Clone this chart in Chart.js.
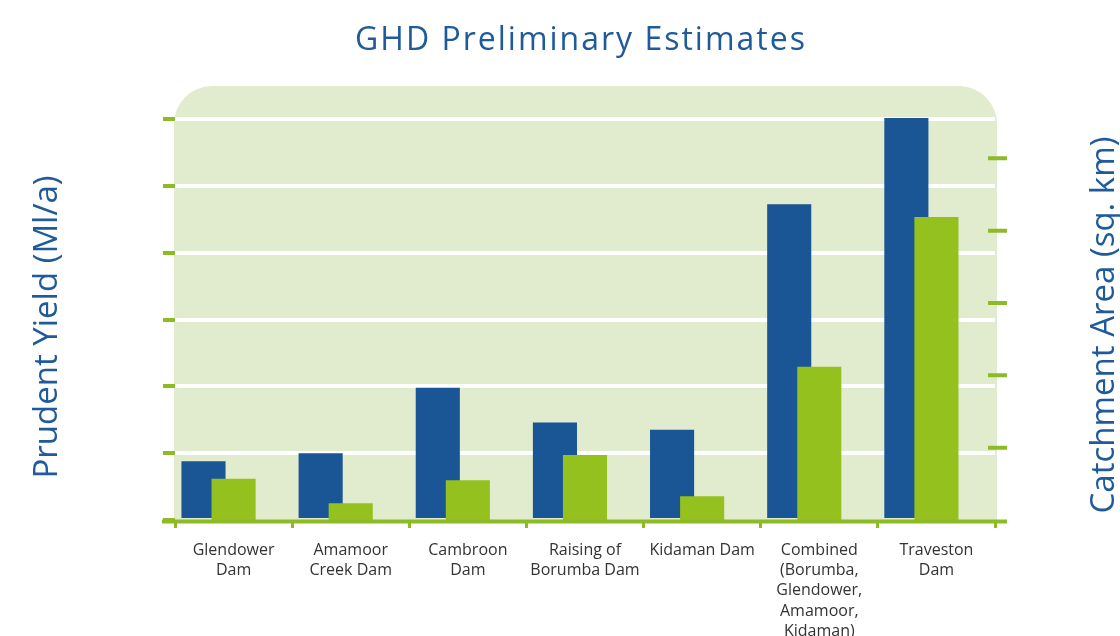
<!DOCTYPE html>
<html>
<head>
<meta charset="utf-8">
<title>GHD Preliminary Estimates</title>
<script src="https://cdn.jsdelivr.net/npm/chart.js@4.4.1/dist/chart.umd.min.js"></script>
<style>
  html, body { margin: 0; padding: 0; background: #ffffff; }
  #chart { display: block; }
</style>
</head>
<body>
<canvas id="chart" width="1120" height="636"></canvas>
<script>
const damLabels = [
  ['Glendower', 'Dam'],
  ['Amamoor', 'Creek Dam'],
  ['Cambroon', 'Dam'],
  ['Raising of', 'Borumba Dam'],
  ['Kidaman Dam'],
  ['Combined', '(Borumba,', 'Glendower,', 'Amamoor,', 'Kidaman)'],
  ['Traveston', 'Dam']
];
// left axis, one unit per gridline
const prudentYield = [0.88, 1.0, 1.98, 1.46, 1.35, 4.73, 6.02];
// right axis, one unit per tick
const catchmentArea = [0.57, 0.23, 0.55, 0.90, 0.33, 2.12, 4.19];

const chartTitle = 'GHD Preliminary Estimates';
const yieldTitle = 'Prudent Yield (Ml/a)';
const catchmentTitle = 'Catchment Area (sq. km)';

const BLUE = '#1a5596';
const GREEN = '#95c11f';
const TICK_GREEN = '#8dbb25';
const TITLE_BLUE = '#1f5a9b';

// light green panel with rounded top corners behind the bars
const panel = {
  id: 'panel',
  beforeDraw(chart) {
    const { ctx, chartArea: a } = chart;
    const r = 38;
    const l = a.left - 1, t = a.top, rt = a.right + 2, b = a.bottom;
    ctx.save();
    ctx.fillStyle = '#e1ebcd';
    ctx.beginPath();
    ctx.moveTo(l, b);
    ctx.lineTo(l, t + r);
    ctx.arcTo(l, t, l + r, t, r);
    ctx.lineTo(rt - r, t);
    ctx.arcTo(rt, t, rt, t + r, r);
    ctx.lineTo(rt, b);
    ctx.closePath();
    ctx.fill();
    ctx.restore();
  }
};

// draw blue first so the green bar sits on top of it
const blueUnder = {
  id: 'blueUnder',
  beforeDatasetsDraw(chart) {
    chart.getSortedVisibleDatasetMetas().forEach(meta => meta.controller.draw());
    return false;
  }
};

// baseline, right-hand tick marks, main title and the two axis titles
const axisMarks = {
  id: 'axisMarks',
  afterDraw(chart) {
    const { ctx, chartArea: a, scales } = chart;
    const y1 = scales.y1;
    ctx.save();
    ctx.strokeStyle = TICK_GREEN;
    ctx.lineWidth = 4;
    ctx.beginPath();
    ctx.moveTo(a.left - 13, a.bottom + 1.5);
    ctx.lineTo(a.right + 12, a.bottom + 1.5);
    y1.ticks.forEach(t => {
      if (t.value <= 0 || t.value >= y1.max) return;
      const py = y1.getPixelForValue(t.value);
      ctx.moveTo(a.right - 7, py);
      ctx.lineTo(a.right + 12, py);
    });
    ctx.stroke();

    ctx.fillStyle = TITLE_BLUE;
    ctx.textAlign = 'center';
    ctx.textBaseline = 'alphabetic';

    ctx.save();
    ctx.font = '32px "Open Sans"';
    ctx.letterSpacing = '2px';
    ctx.fillText(chartTitle, (a.left + a.right) / 2 - 4, 50);
    ctx.restore();

    ctx.font = '33px "Open Sans"';
    const midY = (a.top + a.bottom) / 2 + 24;

    ctx.save();
    ctx.translate(57, midY);
    ctx.rotate(-Math.PI / 2);
    ctx.fillText(yieldTitle, 0, 0);
    ctx.restore();

    ctx.save();
    ctx.translate(a.right + 119, midY - 2);
    ctx.rotate(-Math.PI / 2);
    ctx.fillText(catchmentTitle, 0, 0);
    ctx.restore();

    ctx.restore();
  }
};

new Chart(document.getElementById('chart'), {
  type: 'bar',
  data: {
    labels: damLabels,
    datasets: [
      {
        label: yieldTitle,
        data: prudentYield,
        backgroundColor: BLUE,
        yAxisID: 'y'
      },
      {
        label: catchmentTitle,
        data: catchmentArea,
        backgroundColor: GREEN,
        yAxisID: 'y1'
      },
      {
        // empty slot on the right of each group
        label: '',
        data: [],
        yAxisID: 'y'
      }
    ]
  },
  options: {
    responsive: false,
    animation: false,
    categoryPercentage: 0.77,
    barPercentage: 1.467,
    layout: { padding: { top: 86 } },
    plugins: {
      legend: { display: false },
      tooltip: { enabled: false },
      title: { display: false }
    },
    scales: {
      x: {
        offset: true,
        border: { display: false },
        grid: {
          offset: true,
          drawOnChartArea: false,
          tickLength: 8,
          tickWidth: 3,
          tickColor: TICK_GREEN
        },
        ticks: {
          color: '#333333',
          font: { family: 'Open Sans', size: 16, lineHeight: 1.27 },
          padding: 12,
          autoSkip: false,
          maxRotation: 0,
          minRotation: 0
        },
        afterFit: scale => { scale.height = 116; }
      },
      y: {
        position: 'left',
        min: 0,
        max: 6.5,
        border: { display: false },
        grid: {
          color: ctx => ctx.tick && ctx.tick.value === 0 ? 'rgba(0,0,0,0)' : '#ffffff',
          lineWidth: 4,
          tickLength: 12,
          tickWidth: 4,
          tickColor: TICK_GREEN
        },
        ticks: { display: false, stepSize: 1, includeBounds: false },
        afterFit: scale => { scale.width = 175; }
      },
      y1: {
        position: 'right',
        min: 0,
        max: 6,
        border: { display: false },
        grid: { display: false },
        ticks: { display: false, stepSize: 1 },
        afterFit: scale => { scale.width = 125; }
      }
    }
  },
  plugins: [panel, blueUnder, axisMarks]
});
</script>
</body>
</html>
